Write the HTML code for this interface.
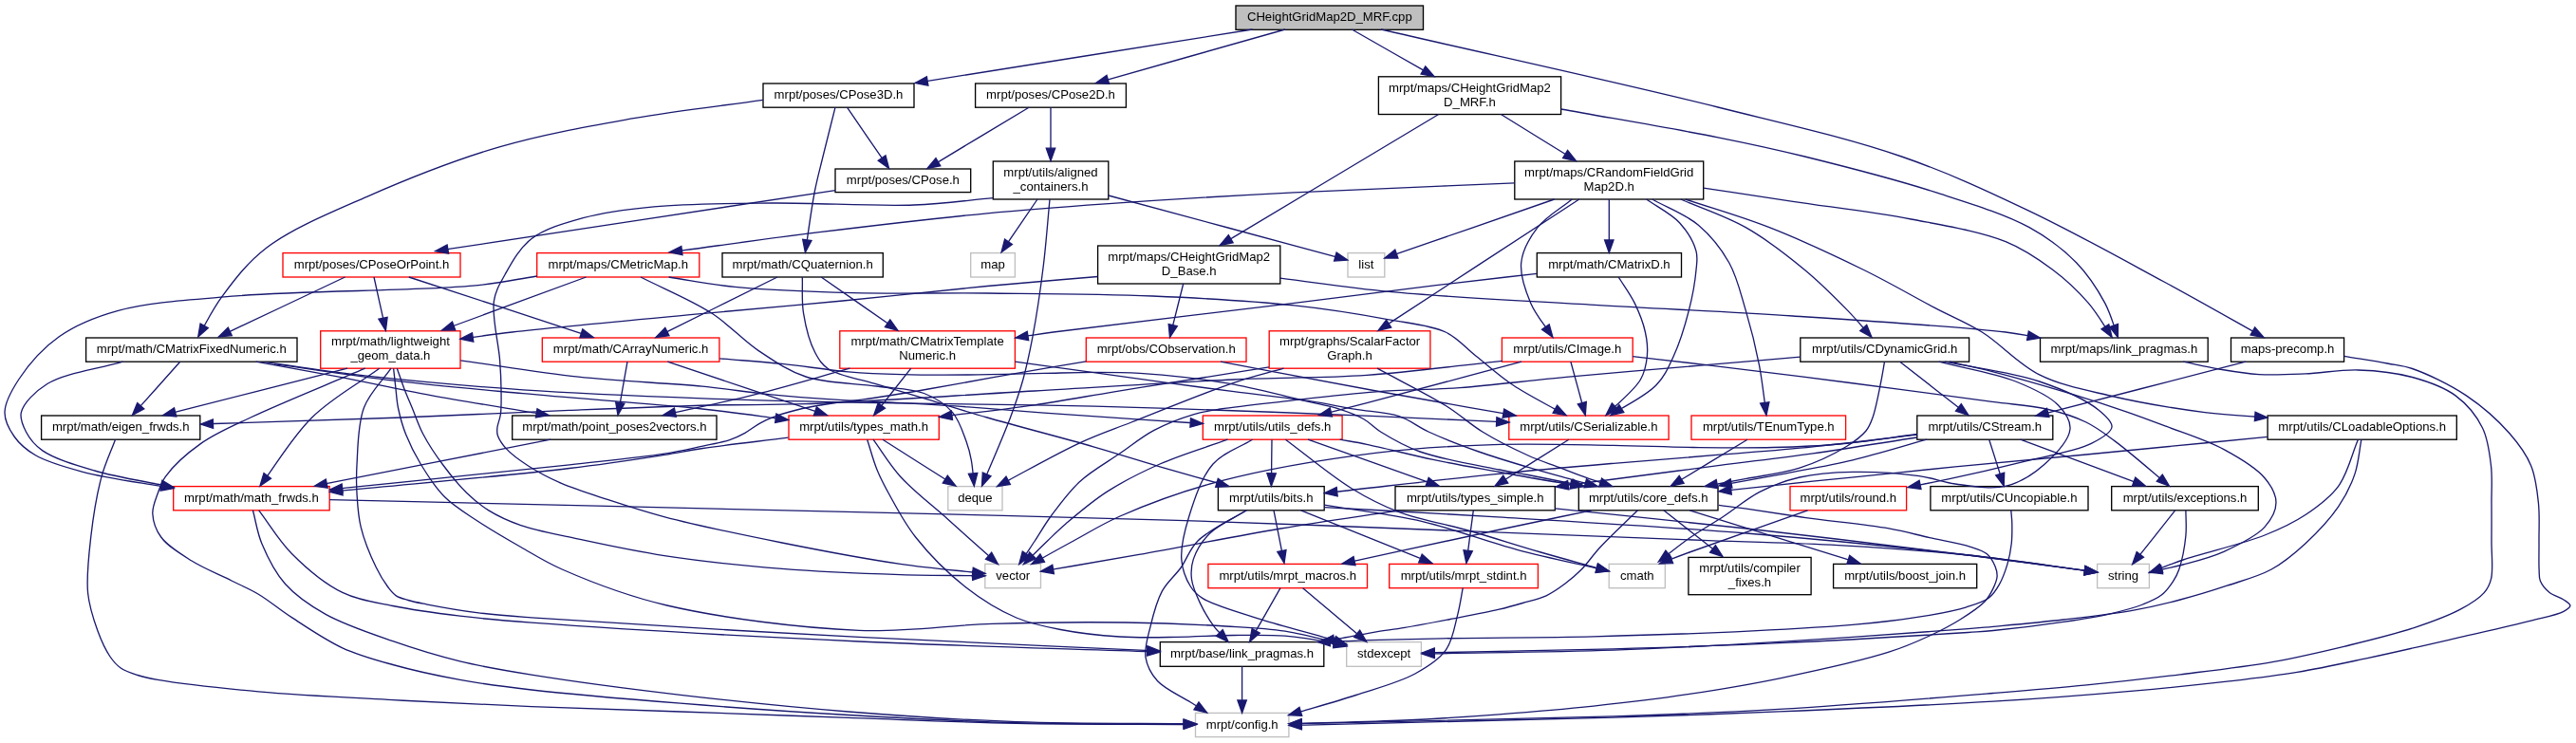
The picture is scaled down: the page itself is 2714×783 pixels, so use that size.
<!DOCTYPE html>
<html><head><meta charset="utf-8"><title>CHeightGridMap2D_MRF.cpp include graph</title>
<style>html,body{margin:0;padding:0;background:#fff}svg{display:block;will-change:transform}text{font-family:"Liberation Sans",sans-serif;font-size:13.15px;text-anchor:middle;fill:#000}.e path{fill:none;stroke:#191970;stroke-width:1.33}.e polygon{fill:#191970;stroke:#191970;stroke-width:1.33}.n rect{stroke-width:1.33}</style></head><body>
<svg width="2714" height="783" viewBox="0 0 2714 783">
<g class="n">
<rect x="1302" y="6" width="197.5" height="25.3" fill="#bfbfbf" stroke="#000"/><text x="1400.8" y="22.1">CHeightGridMap2D_MRF.cpp</text>
<rect x="804" y="88" width="159" height="25.2" fill="#fff" stroke="#000"/><text x="883.5" y="104.1">mrpt/poses/CPose3D.h</text>
<rect x="1027.6" y="88" width="158.8" height="25.2" fill="#fff" stroke="#000"/><text x="1107" y="104.1">mrpt/poses/CPose2D.h</text>
<rect x="1452.4" y="80.8" width="192.2" height="39.7" fill="#fff" stroke="#000"/><text x="1548.5" y="96.5">mrpt/maps/CHeightGridMap2</text><text x="1548.5" y="111.6">D_MRF.h</text>
<rect x="880" y="178" width="142.7" height="24.6" fill="#fff" stroke="#000"/><text x="951.4" y="193.8">mrpt/poses/CPose.h</text>
<rect x="1046.3" y="170" width="121.5" height="40" fill="#fff" stroke="#000"/><text x="1107" y="185.8">mrpt/utils/aligned</text><text x="1107" y="200.9">_containers.h</text>
<rect x="1595.8" y="170" width="198.9" height="40" fill="#fff" stroke="#000"/><text x="1695.2" y="185.8">mrpt/maps/CRandomFieldGrid</text><text x="1695.2" y="200.9">Map2D.h</text>
<rect x="298" y="266.6" width="187" height="25.4" fill="#fff" stroke="#ff0000"/><text x="391.5" y="282.8">mrpt/poses/CPoseOrPoint.h</text>
<rect x="565.7" y="266.6" width="171.1" height="25.4" fill="#fff" stroke="#ff0000"/><text x="651.2" y="282.8">mrpt/maps/CMetricMap.h</text>
<rect x="761" y="266.6" width="169.3" height="25.4" fill="#fff" stroke="#000"/><text x="845.6" y="282.8">mrpt/math/CQuaternion.h</text>
<rect x="1022.7" y="266.6" width="46.7" height="25.4" fill="#fff" stroke="#bfbfbf"/><text x="1046.1" y="282.8">map</text>
<rect x="1156.6" y="259" width="192.2" height="40" fill="#fff" stroke="#000"/><text x="1252.7" y="274.8">mrpt/maps/CHeightGridMap2</text><text x="1252.7" y="289.9">D_Base.h</text>
<rect x="1420" y="266.6" width="38.8" height="25.4" fill="#fff" stroke="#bfbfbf"/><text x="1439.4" y="282.8">list</text>
<rect x="1619.3" y="266.6" width="152.2" height="25.4" fill="#fff" stroke="#000"/><text x="1695.4" y="282.8">mrpt/math/CMatrixD.h</text>
<rect x="90.6" y="356" width="222.4" height="25.2" fill="#fff" stroke="#000"/><text x="201.8" y="372.1">mrpt/math/CMatrixFixedNumeric.h</text>
<rect x="337.7" y="348.8" width="147.3" height="39.4" fill="#fff" stroke="#ff0000"/><text x="411.4" y="364.3">mrpt/math/lightweight</text><text x="411.4" y="379.4">_geom_data.h</text>
<rect x="571.3" y="356" width="186.6" height="25.2" fill="#fff" stroke="#ff0000"/><text x="664.6" y="372.1">mrpt/math/CArrayNumeric.h</text>
<rect x="884.8" y="348.8" width="184.6" height="39.4" fill="#fff" stroke="#ff0000"/><text x="977.1" y="364.3">mrpt/math/CMatrixTemplate</text><text x="977.1" y="379.4">Numeric.h</text>
<rect x="1144.3" y="356" width="168.7" height="25.2" fill="#fff" stroke="#ff0000"/><text x="1228.7" y="372.1">mrpt/obs/CObservation.h</text>
<rect x="1337.2" y="348.8" width="169.7" height="39.4" fill="#fff" stroke="#ff0000"/><text x="1422.1" y="364.3">mrpt/graphs/ScalarFactor</text><text x="1422.1" y="379.4">Graph.h</text>
<rect x="1582.4" y="356" width="137.8" height="25.2" fill="#fff" stroke="#ff0000"/><text x="1651.3" y="372.1">mrpt/utils/CImage.h</text>
<rect x="1896.8" y="356" width="177.8" height="25.2" fill="#fff" stroke="#000"/><text x="1985.7" y="372.1">mrpt/utils/CDynamicGrid.h</text>
<rect x="2149.5" y="356" width="176.7" height="25.2" fill="#fff" stroke="#000"/><text x="2237.8" y="372.1">mrpt/maps/link_pragmas.h</text>
<rect x="2350.5" y="356" width="119.1" height="25.2" fill="#fff" stroke="#000"/><text x="2410.1" y="372.1">maps-precomp.h</text>
<rect x="43.6" y="438" width="167.2" height="25.2" fill="#fff" stroke="#000"/><text x="127.2" y="454.1">mrpt/math/eigen_frwds.h</text>
<rect x="539.7" y="438" width="215.3" height="25.2" fill="#fff" stroke="#000"/><text x="647.4" y="454.1">mrpt/math/point_poses2vectors.h</text>
<rect x="831" y="438" width="158.3" height="25.2" fill="#fff" stroke="#ff0000"/><text x="910.1" y="454.1">mrpt/utils/types_math.h</text>
<rect x="1267.3" y="438" width="146.8" height="25.2" fill="#fff" stroke="#ff0000"/><text x="1340.7" y="454.1">mrpt/utils/utils_defs.h</text>
<rect x="1589.8" y="438" width="168.3" height="25.2" fill="#fff" stroke="#ff0000"/><text x="1673.9" y="454.1">mrpt/utils/CSerializable.h</text>
<rect x="1782" y="438" width="162.6" height="25.2" fill="#fff" stroke="#ff0000"/><text x="1863.3" y="454.1">mrpt/utils/TEnumType.h</text>
<rect x="2019.8" y="438" width="143" height="25.2" fill="#fff" stroke="#000"/><text x="2091.3" y="454.1">mrpt/utils/CStream.h</text>
<rect x="2389.1" y="438" width="199.2" height="25.2" fill="#fff" stroke="#000"/><text x="2488.7" y="454.1">mrpt/utils/CLoadableOptions.h</text>
<rect x="182.7" y="512.6" width="164.5" height="25.2" fill="#fff" stroke="#ff0000"/><text x="264.9" y="528.7">mrpt/math/math_frwds.h</text>
<rect x="998.8" y="512.6" width="57.2" height="25.2" fill="#fff" stroke="#bfbfbf"/><text x="1027.4" y="528.7">deque</text>
<rect x="1283.4" y="512.6" width="111.8" height="25.2" fill="#fff" stroke="#000"/><text x="1339.3" y="528.7">mrpt/utils/bits.h</text>
<rect x="1470" y="512.6" width="168.3" height="25.2" fill="#fff" stroke="#000"/><text x="1554.2" y="528.7">mrpt/utils/types_simple.h</text>
<rect x="1663.3" y="512.6" width="146.7" height="25.2" fill="#fff" stroke="#000"/><text x="1736.7" y="528.7">mrpt/utils/core_defs.h</text>
<rect x="1886" y="512.6" width="122.6" height="25.2" fill="#fff" stroke="#ff0000"/><text x="1947.3" y="528.7">mrpt/utils/round.h</text>
<rect x="2033.9" y="512.6" width="166.1" height="25.2" fill="#fff" stroke="#000"/><text x="2116.9" y="528.7">mrpt/utils/CUncopiable.h</text>
<rect x="2224.7" y="512.6" width="154.6" height="25.2" fill="#fff" stroke="#000"/><text x="2302" y="528.7">mrpt/utils/exceptions.h</text>
<rect x="1037.8" y="594.4" width="58.7" height="25.3" fill="#fff" stroke="#bfbfbf"/><text x="1067.2" y="610.5">vector</text>
<rect x="1272.9" y="594.4" width="167.6" height="25.3" fill="#fff" stroke="#ff0000"/><text x="1356.7" y="610.5">mrpt/utils/mrpt_macros.h</text>
<rect x="1463.7" y="594.4" width="156.7" height="25.3" fill="#fff" stroke="#ff0000"/><text x="1542.1" y="610.5">mrpt/utils/mrpt_stdint.h</text>
<rect x="1695.2" y="594.4" width="59.1" height="25.3" fill="#fff" stroke="#bfbfbf"/><text x="1724.8" y="610.5">cmath</text>
<rect x="1778.9" y="587.4" width="129.2" height="39.3" fill="#fff" stroke="#000"/><text x="1843.5" y="602.8">mrpt/utils/compiler</text><text x="1843.5" y="617.9">_fixes.h</text>
<rect x="1931.6" y="594.4" width="151.1" height="25.3" fill="#fff" stroke="#000"/><text x="2007.1" y="610.5">mrpt/utils/boost_join.h</text>
<rect x="2209.6" y="594.4" width="54.8" height="25.3" fill="#fff" stroke="#bfbfbf"/><text x="2237" y="610.5">string</text>
<rect x="1222.3" y="676.6" width="172.5" height="25.7" fill="#fff" stroke="#000"/><text x="1308.5" y="693">mrpt/base/link_pragmas.h</text>
<rect x="1418.7" y="676.6" width="78.7" height="25.7" fill="#fff" stroke="#bfbfbf"/><text x="1458.1" y="693">stdexcept</text>
<rect x="1259.5" y="751.4" width="98.4" height="25.2" fill="#fff" stroke="#bfbfbf"/><text x="1308.7" y="767.5">mrpt/config.h</text>
</g>
<g class="e">
<path d="M1319.6,31C1319.6,31 1042.1,75.1 977.4,85.4L977.1,85.4"/><polygon points="964,87.5 976.4,80.8 977.9,90.1"/>
<path d="M1354,31C1354,31 1215.5,70.2 1169.3,83.3L1167.3,83.9"/><polygon points="1154.5,87.5 1166,79.4 1168.6,88.4"/>
<path d="M1424.3,31C1424.3,31 1475.3,60.1 1499,73.7L1499.4,73.9"/><polygon points="1511,80.5 1497.1,78 1501.8,69.8"/>
<path d="M1455,31C1573.3,58.3 1709.7,87.9 1810,113C1884.4,131.6 1945.5,145 2003.5,165C2053.1,182.1 2093,200.9 2138,222.3C2185.1,244.7 2236.4,273.4 2280,297C2313.4,315.1 2342.4,331.6 2372.8,348.7L2373.4,349"/><polygon points="2385,355.5 2371.1,353.1 2375.7,344.9"/>
<path d="M804,105.4C758.5,111.8 713.3,116.6 667.6,124.7C620.9,133 573.4,141.1 527,154.6C479.6,168.4 429.5,188.4 386.5,207.3C348.3,224.1 307.8,240.6 281,261C260.4,276.7 246.6,295.4 234,312.4C226.4,322.7 221,332.8 215.5,342.9L215.2,343.4"/><polygon points="208.7,355 211.1,341.1 219.3,345.7"/>
<path d="M880,113.2C875.7,130.5 870.8,149.2 867,165C863.8,178.4 861,187.9 858.3,202C855.5,216.4 853,234.4 850.5,251.8L850.4,252.8"/><polygon points="848.4,266 845.7,252.2 855,253.5"/>
<path d="M892.5,113.2C892.5,113.2 916.2,147.8 928.9,166.2L929.1,166.5"/><polygon points="936.6,177.5 925.2,169.2 933,163.9"/>
<path d="M1084,113.2C1084,113.2 1018.3,152.7 989.9,169.8L988.4,170.6"/><polygon points="977,177.5 986,166.6 990.8,174.7"/>
<path d="M1107,113.2C1107,113.2 1107,139.5 1107,156.1L1107,156.2"/><polygon points="1107,169.5 1102.3,156.2 1111.7,156.2"/>
<path d="M1515.7,120.5C1515.7,120.5 1349.2,220.2 1299.3,250.1L1296.7,251.7"/><polygon points="1285.3,258.5 1294.3,247.6 1299.1,255.7"/>
<path d="M1581.4,120.5C1581.4,120.5 1625.8,148.1 1648.1,161.8L1649.1,162.5"/><polygon points="1660.4,169.5 1646.6,166.5 1651.6,158.5"/>
<path d="M1644.6,115C1699.7,124.9 1763,135.4 1810,144.8C1845.1,151.8 1868.1,156.7 1901.5,165C1942.7,175.2 1996.7,188.9 2038.4,202.4C2074.5,214.1 2111.3,225.1 2138,239.7C2158.4,250.9 2174.2,263 2187.8,277C2200.2,289.8 2210.2,305.4 2217.7,319.4C2221.9,327.3 2224.5,335.1 2227.1,342.9L2227.1,342.9"/><polygon points="2231.4,355.5 2222.6,344.5 2231.5,341.4"/>
<path d="M880,200.6C880,200.6 551.3,250.5 474.6,262.2L471.8,262.6"/><polygon points="458.7,264.6 471.1,258 472.6,267.2"/>
<path d="M1046.3,208.6C1018.5,211.1 994.8,214.8 963,216C920.4,217.6 861.1,213.6 813.5,214C770.1,214.4 725.1,214.4 689,217.8C660.8,220.5 636.9,223.4 614.3,229.7C594.3,235.3 573.6,241 559.5,252C547,261.7 538.7,277.5 532,289.5C526.6,299.1 522.1,306 520.4,317.4C518,333.8 525.4,362.5 526.6,379.6C527.5,391.6 527.9,400.5 528,410.3C528.1,419.4 528.4,429.1 527.4,436.5C526.7,442 524.3,446.6 523.9,450.7C523.6,453.7 523.4,455.8 524.3,458.7C525.7,462.9 529.2,468.2 533.4,472.9C539,479.1 547.8,485.3 556.6,491C566.7,497.5 578.3,503.6 591,509.2C605.7,515.6 622.8,520.8 640,526.4C658.8,532.6 676,538.4 699.6,544.6C733.4,553.5 782.4,563.7 824,572C865.4,580.3 910.4,588.8 948.6,594.4C976,598.4 999.9,600.4 1024.7,603L1024.8,603"/><polygon points="1038,604.4 1024.3,607.7 1025.3,598.3"/>
<path d="M1093,210C1093,210 1074.4,237.3 1063.2,253.7L1062.5,254.8"/><polygon points="1055,265.8 1058.6,252.2 1066.4,257.5"/>
<path d="M1106,210C1103.8,233.3 1102.2,256.3 1099.3,280C1096.3,304.5 1092.1,333 1088,354.7C1084.8,371.6 1082,385 1078,399.5C1074.1,413.4 1070.2,424.7 1064.5,440C1058,457.3 1048.5,479.2 1039.7,499.9L1039.7,499.9"/><polygon points="1034.5,512.2 1035.3,498.1 1044,501.8"/>
<path d="M1167.8,206C1167.8,206 1349.8,255.1 1404.4,269.9L1406.9,270.5"/><polygon points="1419.7,274 1405.6,275.1 1408.1,266"/>
<path d="M1595.8,192.9C1518.4,196.2 1438.1,199 1363.7,202.8C1294.7,206.3 1223.1,210.7 1164.5,214.8C1118.1,218.1 1085.1,220.5 1040,224.8C986.2,230 920.5,237.7 863.3,244.7C814.5,250.7 768.2,257.3 721,263.7L718.4,264"/><polygon points="705.2,265.8 717.8,259.4 719,268.7"/>
<path d="M1637.6,210C1637.6,210 1513.4,253.1 1472,267.4L1471.4,267.6"/><polygon points="1458.8,272 1469.8,263.2 1472.9,272.1"/>
<path d="M1663.8,210C1663.8,210 1510.8,309.9 1464.9,339.9L1463.1,341"/><polygon points="1452,348.3 1460.6,337.1 1465.7,345"/>
<path d="M1656.3,210C1644.2,219.9 1629,228.1 1620,239.7C1611.5,250.6 1604,263.9 1602.7,277C1601.3,290.5 1607.1,306.3 1612.7,319.4C1616.5,328.3 1622.4,336.3 1628.2,344.3L1628.4,344.6"/><polygon points="1636,355.5 1624.5,347.3 1632.2,341.9"/>
<path d="M1695.3,210C1695.3,210 1695.3,236.3 1695.3,252.9L1695.3,253"/><polygon points="1695.3,266.3 1690.6,253 1700,253"/>
<path d="M1734.6,210C1746.2,218.2 1760.6,225 1769.5,234.7C1777.5,243.5 1784.5,255.3 1787,264.6C1788.9,271.6 1787.7,276.7 1787,284.5C1786,296 1783.1,312.5 1779.4,326.9C1775.4,342.6 1769.8,361 1763.4,375C1758,386.7 1754,396.4 1745,405.8C1736.3,415 1722.1,422.5 1708.8,430.3L1708.3,430.6"/><polygon points="1697,437.6 1705.9,426.6 1710.8,434.6"/>
<path d="M1740.8,210C1757,219.1 1775.7,225.7 1789.4,237.2C1802.5,248.2 1813.5,262.2 1821.8,277C1830.2,292 1834,309.5 1839.2,326.9C1844.7,345.4 1849.8,365.9 1853.5,384.8C1856,397.9 1857.5,410.7 1859.2,423.6L1859.3,424.4"/><polygon points="1861,437.6 1854.6,425 1863.9,423.8"/>
<path d="M1770.7,210C1793.5,219.9 1817.5,227.4 1839.2,239.7C1861.2,252.2 1882.9,269.1 1901.5,284.5C1918.2,298.3 1933.6,313.9 1946.3,326.9C1952.6,333.4 1957.8,339.3 1962.9,345.2L1963.2,345.5"/><polygon points="1972,355.5 1959.7,348.6 1966.7,342.4"/>
<path d="M1775.7,210C1805.2,219.9 1834.1,227.9 1864.1,239.7C1896.6,252.4 1933.1,269.5 1963.7,284.5C1990.6,297.7 2016,312.6 2038.4,324.4C2056.6,334 2071.2,339.5 2088.2,350C2107.9,362.2 2126.3,383.7 2148.6,394.8C2171.2,406.1 2196.2,410.7 2223,417C2253.7,424.3 2293,430.7 2323,434.6C2342,437 2358.2,437.9 2374.9,439L2375.7,439"/><polygon points="2389,440 2375.4,443.7 2376.1,434.3"/>
<path d="M1794.7,198.1C1826.1,202.8 1855.4,207.2 1889,212.3C1927.6,218.1 1974.5,223.5 2013.5,231C2048.7,237.8 2086.2,243.7 2113.1,254.6C2133.3,262.8 2148.1,273.3 2163,284.5C2177,295 2189.7,307.1 2200.3,319.4C2207,327.2 2212.3,335.6 2217.6,343.9L2217.9,344.4"/><polygon points="2225.2,355.5 2214,346.9 2221.8,341.8"/>
<path d="M363.5,292C363.5,292 278.3,332.3 244.2,348.4L242.3,349.3"/><polygon points="230.3,355 240.3,345.1 244.3,353.6"/>
<path d="M394,292C394,292 399.8,318.3 403.5,334.9L403.5,335.3"/><polygon points="406.4,348.3 398.9,336.3 408.1,334.3"/>
<path d="M430.8,292C430.8,292 565.7,336.1 610.6,350.8L612.4,351.4"/><polygon points="625,355.5 610.9,355.8 613.8,346.9"/>
<path d="M565.7,291C543.1,294.4 527.8,298.3 498,301.2C441.2,306.7 317.7,306.2 249,311.9C200.3,316 158.3,318 124.5,327.3C99.6,334.2 80,342.2 62.3,354.7C45.4,366.6 29.8,384.6 20,399.5C12.3,411.2 5.2,423.6 5,434.4C4.8,443.6 9.8,452.5 15,460C20.4,467.8 27.8,474.1 37.4,479.8C50.2,487.3 67.7,492.1 87.2,497.3C109.7,503.3 140.1,507.5 168.3,512.2L169.9,512.4"/><polygon points="183,514.7 169.1,517.1 170.7,507.8"/>
<path d="M617.5,292C617.5,292 516.2,329.3 479,343L478.1,343.4"/><polygon points="465.6,348 476.5,339 479.7,347.8"/>
<path d="M675,292C699.8,304.6 727.7,315.8 749.4,329.8C768.4,342 782.1,358.2 799.2,369.6C815.4,380.4 830.1,390.8 849,397C870.8,404.2 901.3,403.8 923.7,407C942,409.6 959.5,409.1 973.5,414.5C985.3,419.1 995.9,425.8 1003.4,434.4C1010.6,442.7 1014.6,455.8 1018,465C1020.6,472.2 1022,477.6 1023.3,484.8C1024.1,489.1 1024.6,493.8 1025.1,498.7L1025.1,499"/><polygon points="1026.3,512.2 1020.4,499.4 1029.8,498.5"/>
<path d="M704.6,292C727.8,295.5 747.6,299.8 774.3,302.4C809.7,305.9 856,307.5 898.8,308.6C944.4,309.8 990.5,308.5 1040,309C1095,309.6 1158.5,309.7 1214.3,312C1266,314.2 1319,317.1 1363.7,321.9C1400.3,325.8 1434.4,331.5 1463.3,336.8C1485.8,341 1506.9,342.4 1523,350C1536.1,356.2 1543.6,366.2 1554.8,375C1567.2,384.7 1579.4,396 1594,405.8C1607,414.5 1622.6,422.6 1637.6,430.8L1638.4,431.2"/><polygon points="1650,437.6 1636.1,435.3 1640.6,427.1"/>
<path d="M819,292C819,292 737.1,332.6 704.3,348.9L702.9,349.6"/><polygon points="691,355.5 700.8,345.4 705,353.8"/>
<path d="M845.3,292C845.7,304.6 844.4,317 846.5,329.8C848.7,343.6 853.4,361.5 859,372C863,379.4 865.9,384.2 873,389C883.8,396.3 905.1,399.2 922,404.4C940,409.9 958.9,415.4 978,421.2C998.1,427.3 1016.2,433.1 1040,440C1071.8,449.2 1119.1,461.3 1152,470.8C1178.1,478.3 1198.4,484.9 1222,491.8C1241.6,497.5 1261.6,503.1 1281.4,508.7L1282,508.9"/><polygon points="1294.8,512.5 1280.7,513.4 1283.3,504.4"/>
<path d="M865.2,292C865.2,292 912.7,325.1 934.9,340.5L935.1,340.7"/><polygon points="946,348.3 932.4,344.6 937.8,336.8"/>
<path d="M1156.6,291.5C1117.7,294.8 1081.4,297.6 1040,301.5C992.7,305.9 938.4,312.1 888,317C838,321.8 792.1,325.6 738.8,330.6C677.2,336.4 585.2,344.8 539.6,350C522.1,352 510.7,353.7 498.7,355.3L498.2,355.4"/><polygon points="485,357.2 497.5,350.7 498.8,360.1"/>
<path d="M1246.7,299C1246.7,299 1240.1,325.4 1235.9,342.1L1235.7,342.6"/><polygon points="1232.5,355.5 1231.2,341.5 1240.3,343.7"/>
<path d="M1348.8,293.2C1387,297.9 1419,303.2 1463.3,307.4C1524,313.1 1608.4,317.1 1680,321.4C1750.3,325.6 1818.2,328.3 1889,333C1962.4,337.8 2070.1,344.7 2113,350C2123.4,351.3 2130.1,352.5 2136.4,353.7L2136.4,353.7"/><polygon points="2149.5,356.2 2135.6,358.4 2137.3,349.1"/>
<path d="M1619.3,288.3C1583.9,292.4 1551.4,296.1 1513,300.7C1467.4,306.2 1420,312.5 1363.7,319.4C1290.2,328.4 1157.7,343.5 1109.7,350C1097.6,351.6 1090.2,352.8 1083,353.9L1082.9,354"/><polygon points="1069.8,356 1082.2,349.3 1083.7,358.6"/>
<path d="M1705.2,292C1710.9,301.1 1717.5,309.8 1722.2,319.4C1726.9,329.1 1731.3,340.2 1733.4,350C1735.3,358.6 1736.2,366.7 1735.4,375C1734.6,383.4 1733.3,391.5 1728.4,400C1723.2,409.1 1712.1,418.6 1701.8,428.1L1701.6,428.4"/><polygon points="1692,437.6 1698.3,425 1704.8,431.8"/>
<path d="M129.5,381.2C102.9,389 68.4,392.9 49.8,404.5C36.8,412.6 24.9,424.7 22.4,434.4C20.6,441.4 24.1,448.6 27.4,455C31.1,462.2 36.4,469 44.8,474.9C57.3,483.6 79.2,490 99.6,496C120.1,502.1 145.1,506.1 168.9,510.7L170,510.9"/><polygon points="183,513.5 169,515.5 170.9,506.3"/>
<path d="M189.7,381.2C189.7,381.2 163.9,410.2 149.2,426.6L148.3,427.7"/><polygon points="139.4,437.6 144.7,424.5 151.8,430.8"/>
<path d="M269.7,381.2C298.8,386.5 327.2,391.5 357,397.2C388.5,403.2 419.6,410.3 454,416.6C488.3,422.9 526.7,429 563.7,435.2L565.2,435.4"/><polygon points="578.3,437.6 564.4,440 566,430.8"/>
<path d="M279.4,381.7C318.2,386.9 354.2,392.6 395.9,397.2C443.9,402.5 496.7,407.1 551,410.8C610.9,414.8 678.8,417.5 740,419.8C797.6,421.9 850.9,423.1 908,424.3C967.4,425.5 1033.3,425.7 1090,426.8C1139.7,427.8 1178.1,428.7 1230,430.3C1295.1,432.4 1384.9,436 1450,438.7C1496.7,440.6 1534.9,442.5 1576.1,444.4L1576.7,444.4"/><polygon points="1590,445 1576.5,449.1 1576.9,439.7"/>
<path d="M289,383.6C331.1,389.4 372.4,396 415.3,401.1C459.7,406.4 502,410.1 551,414.7C608.8,420.1 688.5,425.5 740,431C770.3,434.2 792.7,437.5 817.2,440.8L817.3,440.8"/><polygon points="830.5,442.5 816.7,445.4 817.9,436.1"/>
<path d="M366,388.2C366,388.2 231.1,422.5 186.2,433.9L184.7,434.3"/><polygon points="171.8,437.6 183.5,429.8 185.8,438.9"/>
<path d="M384.7,388.2C344.5,405.5 295.7,424.9 264,440C242.7,450.1 227,456.5 211.7,467.4C197.4,477.5 181.8,491.9 174.3,502.3C169.7,508.7 168.4,513.7 166.2,520C163.9,526.6 160.5,533.9 160.8,541.2C161.2,549.2 164.2,558.4 169.7,566C176.5,575.4 189.7,583.4 201.5,590.8C214.3,598.9 231.3,605.6 244,612C254.4,617.2 262.6,620.4 272.3,626.2C283.7,633 294.5,642.4 307.7,650.9C323.5,661.1 342.6,674.4 360.8,682.8C378.1,690.8 394.8,695.2 413.9,700.5C435.6,706.6 460.6,712 484.6,716.4C509.2,720.9 530.3,723.6 560,727C602.8,731.9 663,736.9 716.9,741.2C774.1,745.8 834.9,750.1 893.9,753.5C952.9,756.9 1010.8,760.1 1070.8,761.7C1127.7,763.2 1186.6,762.8 1244.7,763.1L1247.2,763.1"/><polygon points="1260.5,763.2 1247.2,767.8 1247.2,758.4"/>
<path d="M399.7,388.2C376,405.5 349.5,419.5 328.7,440C310.7,457.7 296.9,480.1 282,501.2L281.7,501.5"/><polygon points="273.9,512.2 278,498.7 285.5,504.2"/>
<path d="M412,388.2C402.5,401.9 389.6,413.5 383.5,429.4C376.8,446.9 377,473.1 376,489.8C375.3,501.6 375.4,509.6 376,520C376.7,531.4 377.2,543.3 380.2,555.4C383.5,569.1 390.6,586.3 396.2,597.8C400.3,606.3 404.9,613.6 409,619C411.9,622.8 414,625.7 417.4,627.9C421,630.2 425.3,631.1 430,632.5C435.7,634.2 441.2,635.2 449.2,636.8C462.5,639.4 484.2,643.3 502.3,645.6C521.1,648 532.7,648.8 560,650.9C626.7,655.9 792.4,665.5 905,671.4C1007.5,676.8 1106,680.7 1206.2,685.3L1208.7,685.4"/><polygon points="1222,686 1208.5,690.1 1208.9,680.7"/>
<path d="M414.6,388.2C415.4,395.5 416.2,402.9 417,410C417.8,416.8 418,422.9 419.5,430C421.3,438.5 423.8,448.2 427.5,457.5C431.6,467.9 437,478.9 443.5,489.5C450.5,501 458.7,513.9 468.6,523.8C478.5,533.7 490.5,540.7 503,549C517,558.3 533.6,567.9 548.7,576.5C563.3,584.8 574,592 592.2,600C620.2,612.3 659.7,627.9 702.7,638C759.5,651.3 843.6,661.9 905,664.3C956,666.3 998.7,658.7 1045.5,657.3C1092.3,655.9 1142.5,655.4 1186,656C1223.7,656.5 1260.9,658.1 1291.5,660C1315.1,661.4 1333.1,662 1354,665.2C1371.2,667.9 1388.5,672.6 1405.8,676.9L1405.8,676.9"/><polygon points="1418.7,680 1404.7,681.5 1406.9,672.3"/>
<path d="M418.3,388.2C420.9,395.5 423.3,402.9 426,410C428.6,416.8 431.3,422.8 434.3,430C437.8,438.4 440.9,448.2 445.8,457.5C451.3,468 458.8,479.3 466.4,489.5C474,499.8 482.9,510.8 491.5,519.2C499,526.5 505.6,532.1 514.4,537.6C524.4,543.8 535.5,549 548.7,553.6C565.1,559.3 584.5,562.6 606,567.3C633.4,573.2 666.4,580.5 700,585.6C738.4,591.5 782.6,596.1 824,599.4C865.4,602.7 910.5,604.4 948.6,605.6C975.5,606.4 998.9,606.4 1023.3,606.6L1024.7,606.7"/><polygon points="1038,606.8 1024.7,611.4 1024.8,602"/>
<path d="M485.2,379.8C526.6,385.6 567.4,392.7 609.4,397.2C652.3,401.8 703.2,403.6 740,407.2C767,409.8 786.6,413.3 810,415.6C833.3,417.9 856.7,419.7 880,421.2C903.3,422.7 926.7,423.4 950,424.7C973.3,426 995.9,427.2 1020,428.9C1045.8,430.7 1068.5,432.9 1100,435.2C1141.8,438.2 1200.8,442 1253.3,445.5L1254.2,445.5"/><polygon points="1267.5,446.4 1253.9,450.2 1254.5,440.8"/>
<path d="M661,381.2C661,381.2 656.3,407.5 653.4,424.2L653.3,424.5"/><polygon points="651,437.6 648.7,423.7 657.9,425.3"/>
<path d="M703.3,381.2C703.3,381.2 815.5,418.8 856.6,432.6L858.9,433.4"/><polygon points="871.5,437.6 857.4,437.8 860.4,428.9"/>
<path d="M758.2,377.8C780.1,379.7 801.7,381.1 824,383.4C847,385.8 871.9,389.9 894,391.8C913.7,393.5 930.3,394.1 950,394.6C972,395.2 995.9,395.2 1020,395C1045.8,394.8 1075.9,393.9 1100,393.4C1119.8,393 1136.6,392.4 1154,392.4C1170.2,392.4 1185.3,392.5 1201,393.4C1216.8,394.3 1232.4,395.7 1248.5,397.6C1265.3,399.6 1281,401.6 1300,405.2C1323.8,409.7 1360.2,419 1380,423.6C1391.7,426.3 1398.7,427.3 1408,430.2C1417.6,433.2 1428.3,436.9 1436.5,441.5C1443.5,445.4 1447,450.3 1454.5,455C1465.3,461.7 1479.3,470 1496,476C1518.7,484.2 1559,490.7 1580,495C1592.5,497.6 1598.3,498.3 1610,500.5C1622.9,503 1639.8,506.4 1656,509.7L1656.2,509.7"/><polygon points="1669.2,512.3 1655.2,514.3 1657.1,505.1"/>
<path d="M895.4,388.2C862.3,397.3 829.1,407.3 796,415.6C767.8,422.7 739.6,428.5 711.4,434.7L711.4,434.7"/><polygon points="698.4,437.6 710.4,430.1 712.4,439.3"/>
<path d="M959.8,388.2C959.8,388.2 940.6,412.5 929.1,427.1L928.8,427.4"/><polygon points="920.6,437.8 925.2,424.5 932.5,430.3"/>
<path d="M1069.4,381.1C1097.7,385 1126.8,389.1 1154.3,392.9C1180.2,396.5 1205,399.9 1229.7,403.3C1253.5,406.5 1275.8,409.6 1300,412.7C1325.8,416 1356.9,419.2 1380,422.7C1397.8,425.4 1411.3,428.5 1427,431.2C1442.7,433.9 1460.3,434.1 1474,438.7C1485.8,442.6 1493.1,449.5 1505,455C1520.2,462 1540.3,469.7 1558,476C1575.3,482.1 1593.2,487.4 1610,492.4C1625.7,497.1 1642.5,501.6 1655.8,505.3C1660.9,506.7 1665.5,507.9 1669.9,509.1L1670.3,509.2"/><polygon points="1683.2,512.6 1669.1,513.7 1671.5,504.7"/>
<path d="M1144.3,380.8C1112.2,386.3 1077.5,392.2 1048,397.4C1022.8,401.8 1001.4,406 978,410C954.7,414 926.1,418.7 908,421.2C896.6,422.8 889.8,423.1 880,424.5C869.1,426.1 856.3,428 845.4,430.5C835.4,432.8 825.1,435.7 817.1,438.6C810.9,440.9 806.3,442.9 801,445.8C795.5,448.8 790.3,453.3 784.8,456.3C779.5,459.2 774.9,461.5 768.7,463.6C760.7,466.3 750.7,467.9 740.4,470.1C728.1,472.7 716.5,475.6 700,478.2C674.2,482.3 640.9,485.3 600,489.8C539.3,496.5 445.2,505.9 364.5,514.2L360.6,514.6"/><polygon points="347.4,516 360.1,510 361.1,519.3"/>
<path d="M1286,381.2C1340.7,391.5 1396.8,402.3 1450,412C1495.3,420.3 1538.4,427.7 1582.3,435.4L1583.9,435.7"/><polygon points="1597,438 1583.1,440.3 1584.7,431.1"/>
<path d="M1337,386.9C1310.7,391.1 1284.7,395.3 1258,399.5C1230.4,403.9 1202,408.3 1174,412.8C1146,417.4 1119.3,422.5 1090,426.8C1062.3,430.8 1032.4,434.2 1003.1,437.7L1002.9,437.8"/><polygon points="989.7,439.4 1002.3,433.1 1003.5,442.4"/>
<path d="M1352.5,388.2C1335,393.2 1320.4,396.4 1300,403.3C1270.2,413.3 1221.8,433.3 1192,445C1170.9,453.3 1157.9,457.4 1138,466.6C1115.5,477 1088.2,492.4 1062.3,506.3L1062.2,506.4"/><polygon points="1050.5,512.6 1060,502.2 1064.4,510.5"/>
<path d="M1451,388.2C1475.3,401.5 1503.9,415.4 1524,428C1539,437.4 1548.1,446.6 1561.8,455C1576.6,464.1 1595.4,473.4 1610,480C1621.7,485.3 1631.8,488.4 1642.3,492.4C1652.4,496.3 1662.3,500.3 1672,503.7C1676.7,505.4 1681.3,506.9 1685.9,508.4L1686.2,508.5"/><polygon points="1698.8,512.6 1684.7,512.9 1687.6,504"/>
<path d="M1582.8,380.3C1535.2,385.3 1487.4,392 1440,395.3C1393.2,398.5 1351.4,397.7 1300,400C1237.1,402.9 1162.4,407.9 1090,412C1012.4,416.4 911.9,423.5 849,425.7C808.6,427.1 785.9,426.1 749.4,427C704.6,428.1 651.9,430.3 600,432.4C543.6,434.6 484.9,437.7 423.3,440C360.3,442.4 291.7,444.4 225.4,446.5L224.5,446.6"/><polygon points="211.2,447 224.3,441.9 224.6,451.3"/>
<path d="M1603,381.2C1548.7,395.7 1478.9,414.5 1440,424.7C1424.5,428.7 1413.9,431.4 1403,434.2L1402.4,434.3"/><polygon points="1389.5,437.6 1401.2,429.8 1403.5,438.9"/>
<path d="M1654.9,381.2C1654.9,381.2 1662.1,407.5 1666.6,424.2L1666.8,424.8"/><polygon points="1670.3,437.6 1662.3,426 1671.3,423.5"/>
<path d="M1720.2,375.7C1746.8,378.7 1769.3,381.1 1800,384.8C1842.1,389.8 1899.6,397.1 1949.4,403.5C1999.2,409.9 2060.7,418.3 2098.8,423.4C2122.4,426.5 2138.6,427 2156,431C2171.3,434.5 2185.5,438.9 2198,445C2209.3,450.5 2216.8,456.5 2228.2,464.9C2241.6,474.8 2258.6,489.5 2274.8,503.2L2275.3,503.7"/><polygon points="2285.5,512.2 2272.3,507.3 2278.3,500.1"/>
<path d="M1896.8,376.1C1864.5,378.9 1835.8,381.3 1800,384.4C1755.5,388.2 1696.3,393.1 1650,397.4C1609.9,401.1 1573.1,406 1538,408.6C1506.9,410.9 1479.8,410.5 1450,412.8C1419.2,415.1 1385,419.3 1356,422.6C1330.9,425.4 1304,428.1 1286,431C1274.5,432.8 1268.1,433.6 1258,436.6C1245.3,440.4 1229.1,446.4 1216,453.4C1203.1,460.2 1192.4,469.2 1180,477.8C1166.5,487.1 1150.3,495.9 1138,507.2C1126.1,518.1 1115.7,532.6 1107.2,544C1100.4,553.2 1095.9,561.5 1090.3,570C1087.3,574.6 1084.2,579.1 1081.2,583.6L1081.2,583.6"/><polygon points="1073.7,594.6 1077.3,581 1085.1,586.2"/>
<path d="M1985.5,381.2C1984.3,388.1 1983.4,394.1 1981.8,402C1979.6,412.8 1976.4,430.6 1973,440C1970.9,446 1969.6,449.5 1966,454C1961.2,459.9 1953.9,465.3 1945,470.8C1932.4,478.5 1913.2,487.6 1896,493.2C1878.3,498.9 1857.6,501 1840,504.4C1829.4,506.4 1819.6,508.2 1809.8,510L1809.1,510.1"/><polygon points="1796,512.5 1808.2,505.5 1809.9,514.7"/>
<path d="M2001.7,381.2C2001.7,381.2 2042.3,412.9 2062.6,428.8L2063.4,429.4"/><polygon points="2073.9,437.6 2060.5,433.1 2066.3,425.7"/>
<path d="M2042.8,381.2C2069.8,388.1 2101.2,393 2123.7,402C2141.4,409.1 2158.9,417 2168.5,427C2175.6,434.4 2181.7,443.1 2181,452C2180,463.6 2164.8,479.7 2153.5,489.8C2142.3,499.7 2128.5,508.6 2113.7,512.2C2097.6,516.1 2076.3,512.1 2060,510C2046.2,508.2 2036.7,503.6 2022,501.6C2002.3,498.8 1974,497 1952,497.4C1932.3,497.8 1913.1,499.1 1896,503C1880.8,506.5 1867.2,511.6 1854,518.4C1840.6,525.3 1828.7,535.8 1816.2,544C1804.1,552 1791.6,558.9 1780,567C1772.4,572.3 1765.3,577.9 1758.1,583.6L1757.8,583.8"/><polygon points="1747.3,592 1754.9,580.1 1760.7,587.5"/>
<path d="M2049,381.2C2082.2,388.1 2119.8,392.2 2148.6,402C2172.4,410.1 2198.1,421.7 2210.9,432C2218.2,437.9 2225.7,444.4 2225,450C2224.3,456.2 2213.4,462.3 2203.3,467.4C2186.4,475.9 2153.5,481.1 2128.6,487.3C2103.7,493.5 2075.5,500 2053.9,504.7C2042.6,507.1 2033.1,509 2023.5,510.8L2023.1,510.9"/><polygon points="2010,513.5 2022.1,506.3 2024,515.5"/>
<path d="M2054,381.2C2069.3,384.7 2082.4,387.3 2100,391.8C2123.9,397.9 2158.9,408 2184,415.6C2204.6,421.9 2222.7,427.8 2240,433.8C2255.1,439 2266.7,443.4 2282,449.2C2300.5,456.3 2324.9,463.8 2343,473.6C2359.1,482.3 2376.8,492.7 2386,503.7C2392.8,511.8 2398,521 2398,529.6C2398,538.2 2392.9,547.7 2386,555.4C2376.8,565.6 2357.7,574.6 2343,581.3C2329,587.6 2313.7,591.3 2300,595C2292.4,597.1 2285.2,598.6 2278,600.1L2277.6,600.2"/><polygon points="2264.6,603 2276.6,595.6 2278.6,604.8"/>
<path d="M2300.2,381.2C2312.8,383.8 2325,386.8 2338,389C2351.6,391.3 2365.4,393.7 2380,394.6C2395.7,395.5 2412.2,394.6 2429,393.9C2447,393.1 2466,389.4 2484.6,390C2503.5,390.6 2523.9,392.7 2541.5,397.5C2557.8,402 2574.5,407.6 2587,416.9C2598.9,425.7 2609.3,438.4 2615.5,451C2621.5,463.1 2622.9,477.6 2624.5,490.9C2626,503.9 2624.9,516.9 2625,530C2625.1,543.3 2625.1,556.7 2625,570C2624.9,583.3 2627,600.1 2624.6,609.9C2623.1,616.2 2621.2,620 2617.2,624.6C2611.8,630.9 2602.6,636.5 2592.6,641.9C2579.3,649.1 2561.6,655.5 2543.3,661.6C2521.4,668.9 2494.2,675.3 2469.5,681.3C2444.9,687.2 2422.1,692.6 2395.6,697.3C2365.2,702.7 2329.9,706.7 2297,710.8C2264.2,714.9 2231.4,718.6 2198.5,721.9C2165.7,725.2 2139.6,727.3 2100,730.5C2040.2,735.4 1944.7,743.3 1874.3,747.4C1812.5,751 1767.8,752.7 1700,754.9C1609.8,757.9 1485.2,760 1375.2,762.4L1371.3,762.5"/><polygon points="1358,762.8 1371.2,757.8 1371.4,767.2"/>
<path d="M2366,381.2C2366,381.2 2206.2,422.5 2158.2,434.8L2157.7,435"/><polygon points="2144.8,438.3 2156.5,430.4 2158.9,439.5"/>
<path d="M2469.6,375.3C2484.9,377.9 2502.3,380.5 2515.4,383C2525.3,384.9 2531.4,385 2541.5,388.5C2557.1,393.9 2581.2,405.3 2598.4,416.9C2615.2,428.2 2632.1,443.2 2644,456.8C2653.8,468 2661.6,478.5 2666.7,490.9C2671.8,503.2 2673.1,517.5 2674.5,530.8C2675.8,543.9 2674.9,557.8 2675,570C2675.1,580.7 2674.7,592.2 2675.1,600C2675.4,605 2674.8,608.4 2676.4,612.3C2678.2,616.7 2682.2,621.3 2686.2,624.6C2690.3,627.9 2697.1,629.4 2701,632C2703.9,634 2707.9,636.1 2707.9,638.2C2707.9,640.2 2704.5,642.4 2701,644.3C2694.1,648.1 2680.2,650.6 2666.5,654.2C2646.6,659.4 2619,665.4 2592.6,671.4C2562.1,678.4 2524.6,687.1 2494.1,693.6C2467.7,699.2 2444.9,704.3 2420.2,708.4C2395.6,712.5 2372.7,715.1 2346.3,718.2C2315.8,721.7 2284,724.9 2247.8,728.1C2203.5,732 2154.5,735.9 2100,739.2C2032.7,743.3 1944.7,747 1874.3,749.9C1812.5,752.5 1767.8,754.1 1700,756.1C1609.8,758.8 1485.2,761.4 1375.2,764.1L1371.3,764.2"/><polygon points="1358,764.5 1371.2,759.5 1371.4,768.9"/>
<path d="M121.5,463.2C116.7,476.2 111,487.6 107,502.3C102.1,520.4 98.3,543.8 95.9,564.5C93.6,584.7 90.8,607 92.6,625C94.1,639.8 98.7,653.2 103,665C106.7,675.1 111.3,685.1 116,692C119.5,697.1 122.6,700.8 127.2,704C132.2,707.5 138.7,709.5 145,711.5C151.7,713.7 156.4,714.7 166.2,716.4C188,720.2 234.3,725.4 272.3,728.8C316.1,732.7 366.3,735 413.9,737.6C462.2,740.3 510.4,742.7 560,744.7C611.4,746.8 663,748.1 716.9,750C774.1,752 834.9,754.3 893.9,756.4C952.9,758.5 1010.8,761.2 1070.8,762.4C1127.7,763.5 1186.6,763.3 1244.7,763.5L1247.2,763.5"/><polygon points="1260.5,763.6 1247.2,768.2 1247.2,758.8"/>
<path d="M580.2,463.2C580.2,463.2 400.3,498.6 346.3,509.2L344.2,509.6"/><polygon points="331.2,512.2 343.3,505 345.2,514.2"/>
<path d="M830.5,461.2C800.5,465 764.5,468.9 740.4,472.5C724.2,474.9 716.5,476.8 700,479.4C674.1,483.4 641,488.6 600,493.5C539.4,500.8 445.2,508.9 364.5,516.7L360.6,517.1"/><polygon points="347.4,518.4 360.2,512.4 361.1,521.8"/>
<path d="M930,463.2C930,463.2 973.3,490.8 995,504.5L995.8,505.1"/><polygon points="1007,512.2 993.3,509 998.3,501.1"/>
<path d="M920,463.2C929.5,476.2 937,489.4 948.6,502.3C962.3,517.4 981.5,531.9 998.4,547C1012.3,559.5 1026.6,572.3 1040.9,585.1L1041.6,585.7"/><polygon points="1051.5,594.6 1038.5,589.2 1044.7,582.2"/>
<path d="M913.7,463.2C917.1,473.8 920,485.2 924,495C927.6,504 931.1,510.5 936.3,520C943.6,533.2 952.6,550.8 964.6,566C978.7,583.9 999.1,604.4 1017.7,619C1034.6,632.2 1053.1,643.5 1070.8,651C1086.4,657.6 1100.6,660.3 1117.4,663.5C1136.5,667.2 1159,669.7 1179.6,671C1199.8,672.3 1219.9,671.7 1240,671.4C1260,671.1 1280.5,669.7 1300,669.5C1318.5,669.3 1336.4,668.8 1354,670.2C1371,671.6 1392,675.5 1403.7,677.7C1404.3,677.8 1405,677.9 1405.6,678.1L1405.7,678.1"/><polygon points="1418.7,681 1404.7,682.7 1406.8,673.5"/>
<path d="M1293.4,463.2C1269.6,471.8 1244,479.3 1222,489C1201.9,497.9 1183,507.4 1166,518.4C1150.2,528.6 1134.3,542.3 1122.9,552C1115,558.7 1110.4,563.5 1103.6,570C1098.8,574.6 1093.5,579.8 1088.3,585L1088,585.3"/><polygon points="1078.5,594.6 1084.7,581.9 1091.3,588.6"/>
<path d="M1319.5,463.2C1305.7,471.8 1288.9,476.7 1278,489C1265.9,502.7 1258.3,526.2 1252.8,544C1248,559.5 1243.8,576.1 1244.8,589.4C1245.6,600.1 1249.8,610.8 1254.3,618C1257.7,623.5 1260.4,626.4 1266.8,630.4C1279.2,638.2 1307.6,645.9 1329,652.8C1351.5,660 1382.5,667.8 1398.7,672.7C1401.5,673.5 1403.8,674.3 1405.9,674.9L1406,675"/><polygon points="1418.7,679 1404.6,679.4 1407.5,670.5"/>
<path d="M1340,463.2C1340,463.2 1339.7,483.9 1339.6,498.4L1339.6,498.9"/><polygon points="1339.4,512.2 1334.9,498.8 1344.3,499"/>
<path d="M1354.4,463.2C1377.6,480.4 1402.2,501.3 1424,514.7C1441.5,525.4 1455.3,532.5 1474,539.6C1496,547.9 1523.8,552.5 1548.6,559.5C1573.5,566.6 1598.6,574.9 1623.3,582C1643,587.7 1662.5,592.9 1682,598.3L1682.4,598.4"/><polygon points="1695.2,601.9 1681.1,602.9 1683.6,593.8"/>
<path d="M1378,463.2C1378,463.2 1466.4,494.6 1501.8,507.1L1503.7,507.8"/><polygon points="1516.2,512.2 1502.1,512.2 1505.2,503.3"/>
<path d="M1411.7,463.2C1421.1,464.9 1428.5,465.9 1440,468.3C1458.2,472 1486.6,479.5 1510,484.4C1533.3,489.3 1561.5,494.1 1580,497.5C1592.1,499.7 1598.4,501 1610,503C1622.4,505.2 1638.5,507.8 1654.1,510.3L1654.9,510.4"/><polygon points="1668,512.6 1654.1,515.1 1655.6,505.8"/>
<path d="M1652.8,463.2C1652.8,463.2 1609,490.8 1587.2,504.5L1586.3,505.1"/><polygon points="1575,512.2 1583.7,501.1 1588.8,509.1"/>
<path d="M1841,463.2C1841,463.2 1795.6,490.8 1772.9,504.5L1771.7,505.3"/><polygon points="1760.3,512.2 1769.2,501.3 1774.1,509.3"/>
<path d="M2019.8,457.5C1992.5,461 1964.2,465.7 1938,468C1913.8,470.2 1892.4,470.9 1868,471.5C1841.3,472.2 1812,471.8 1784,471.5C1756,471.2 1730.9,469.9 1700,469.4C1662.1,468.8 1615.5,467.3 1573.5,468.6C1531.8,469.9 1493.2,471.8 1449,477.4C1397.9,483.8 1333.2,494.5 1285,507.2C1245.7,517.6 1208,531.7 1180,544C1160.2,552.7 1146.9,561.4 1131,570C1119.9,576 1109.1,582 1098.4,588L1098.2,588.1"/><polygon points="1086.6,594.6 1095.9,584 1100.5,592.2"/>
<path d="M2019.8,458.2C1983.2,462.4 1945.6,467.2 1910,470.8C1876.4,474.2 1845.8,476.4 1812,479.2C1775.9,482.2 1738.5,485 1700,488.3C1659.1,491.8 1619.2,495.2 1573.5,499.8C1523.7,504.8 1465.5,511.8 1410.4,518L1408.7,518.2"/><polygon points="1395.5,519.7 1408.2,513.5 1409.2,522.9"/>
<path d="M2019.8,461C1983.2,466.6 1945.6,472.8 1910,477.8C1876.4,482.5 1845.8,486 1812,490.4C1775.9,495.1 1731.7,500.9 1700,505C1682.1,507.3 1667.7,509.2 1652.8,511.2L1652.2,511.3"/><polygon points="1639,513 1651.6,506.6 1652.8,515.9"/>
<path d="M2030,463.2C2004,470.4 1977.4,478.8 1952,484.8C1928.1,490.5 1905.4,494.3 1882,498.8C1863.1,502.4 1844.2,505.8 1825.2,509.2L1824.1,509.4"/><polygon points="1811,511.8 1823.2,504.8 1824.9,514"/>
<path d="M2095.7,463.2C2095.7,463.2 2102.6,485 2107.2,499.5L2107.2,499.5"/><polygon points="2111.2,512.2 2102.7,500.9 2111.7,498.1"/>
<path d="M2128.6,463.2C2128.6,463.2 2213.1,494.6 2246.9,507.1L2248.1,507.6"/><polygon points="2260.6,512.2 2246.5,512 2249.8,503.2"/>
<path d="M2389.1,460.4C2325.4,466.6 2256.5,473.4 2198,479C2148.3,483.7 2099.8,487.9 2060,491.8C2029.7,494.8 2005.8,497.6 1980,500.2C1955.9,502.7 1935.4,504.6 1910,507.2C1883.8,509.9 1853.2,513.2 1824,516.4L1823.8,516.4"/><polygon points="1810.6,517.8 1823.3,511.7 1824.3,521.1"/>
<path d="M2484.4,463.2C2477.5,479.6 2473.5,498.8 2463.7,512.3C2454.6,524.8 2441.8,533.9 2429,542.5C2415.9,551.2 2403.1,557.2 2386,564C2362.6,573.3 2322.3,582.4 2300,590C2291.1,593 2284.2,595.8 2277.4,598.4L2277,598.6"/><polygon points="2264.6,603.5 2275.3,594.3 2278.7,603"/>
<path d="M2487.9,463.2C2485.6,475.3 2484.9,487.7 2481,499.4C2477,511.3 2471.4,522.6 2463.7,533.9C2454.7,547.1 2441.2,561.4 2429,572.7C2417.6,583.2 2406.5,592.7 2393.1,600C2379,607.7 2362.2,611.9 2346.3,617.2C2330.2,622.6 2313.5,627.7 2297,632C2280.7,636.3 2265.9,639.8 2247.8,643.1C2225.7,647.1 2198.6,650.1 2173.9,653C2149.3,655.9 2118.5,658.6 2100,660.3C2089,661.3 2086.5,661.7 2073.5,662.7C2038,665.5 1938.5,672.6 1874.3,676.4C1814.3,680 1760.3,683.1 1700,685.2C1639.5,687.3 1574.6,687.7 1511.5,688.8L1511.3,688.8"/><polygon points="1498,689 1511.2,684.1 1511.4,693.5"/>
<path d="M347.2,526.7C444.8,528.9 550.6,531.3 640,533.4C715.5,535.2 768.5,536.4 849,538.4C959.1,541.1 1122.9,544.6 1240,548.3C1335.5,551.3 1410.2,554.6 1500,558C1596.4,561.7 1719.4,566.5 1800,569.6C1854.4,571.7 1891.2,572.1 1936.8,574.7C1982.4,577.3 2028,580.3 2073.5,585C2114.4,589.2 2155.2,595.6 2196,601.2L2196.4,601.2"/><polygon points="2209.6,603 2195.8,605.9 2197,596.6"/>
<path d="M266.4,537.8C269.6,549.5 270.9,561.1 275.9,573C281.7,586.9 289.7,603.3 300.6,615.5C311.9,628.2 326.4,638 343.1,647.4C363.1,658.6 390.1,667.4 413.9,675.7C437.3,683.9 460.5,691 484.6,696.9C509.2,702.9 530.2,706.3 560,711.1C602.8,718 663,726 716.9,732.3C774.1,739 834.9,745.3 893.9,750C952.8,754.7 1010.8,758.5 1070.8,760.6C1127.7,762.6 1186.6,762.2 1244.7,762.6L1247.2,762.7"/><polygon points="1260.5,762.8 1247.2,767.4 1247.2,758"/>
<path d="M272.7,537.8C284.4,553.1 293.7,569.7 307.7,583.7C322.7,598.8 342.1,615.2 360.8,624.4C377.7,632.7 394.8,634.5 413.9,638.5C435.7,643 460.6,646.3 484.6,649.2C509.3,652.2 525.7,653.6 560,656.2C633.2,661.7 792.4,670.8 905,676C1007.5,680.7 1106,683.1 1206.2,686.5L1208.7,686.5"/><polygon points="1222,687 1208.5,691.2 1208.9,681.8"/>
<path d="M1313.3,537.8C1300.4,545.9 1284.3,552.4 1274.7,562C1266.6,570.1 1260.3,580.5 1257.3,589.4C1254.9,596.6 1254.6,603.3 1255.5,610.5C1256.5,618.6 1260.5,627.3 1264.3,635.4C1268.3,643.9 1273.8,653.1 1279.2,660.3C1281,662.7 1282.9,664.8 1284.8,666.8L1284.8,666.9"/><polygon points="1294.1,676.4 1281.4,670.2 1288.2,663.6"/>
<path d="M1313.3,537.8C1296.2,548.5 1273.9,558.2 1262,570C1253.2,578.7 1250.6,589.1 1244.3,598C1238.1,606.7 1229.7,613.2 1224.4,622.9C1218.6,633.7 1214.9,648.2 1212,660.3C1209.3,671.3 1205.5,682.8 1207,692.6C1208.4,701.7 1212.8,710.2 1219.4,717.5C1227.4,726.5 1244.7,733.8 1254.3,740C1256.5,741.4 1258.4,742.6 1260.3,743.8L1260.5,744"/><polygon points="1271.7,751.1 1258,747.9 1263,740"/>
<path d="M1342,537.8C1342,537.8 1347.1,563.8 1350.4,580.3L1350.4,580.5"/><polygon points="1353,593.5 1345.8,581.4 1355,579.5"/>
<path d="M1370.6,537.8C1370.6,537.8 1459,573.4 1494.4,587.7L1496.5,588.5"/><polygon points="1508.8,593.5 1494.7,592.9 1498.2,584.2"/>
<path d="M1395.2,532.1C1429.7,537.9 1464.8,541.7 1498.8,549.6C1532.6,557.5 1565.3,570.6 1598.4,579.4C1625.9,586.7 1653.3,592.4 1680.7,598.6L1682.2,598.9"/><polygon points="1695.2,601.9 1681.2,603.5 1683.3,594.4"/>
<path d="M1395.2,534.6C1454.6,537.9 1508.1,540.6 1573.5,544.6C1653.4,549.5 1754.2,555 1840,562C1920.5,568.6 2006.2,577.2 2073.5,585C2119.9,590.3 2156.3,595.8 2196.2,601.2L2196.4,601.2"/><polygon points="2209.6,603 2195.8,605.9 2197,596.6"/>
<path d="M1474,537.8C1432.5,544.2 1392.8,549.7 1349.4,557C1301.8,565 1245.3,576.4 1200,584.4C1167.4,590.2 1139.5,594.9 1110.2,599.9L1109.6,600"/><polygon points="1096.5,602.2 1108.8,595.3 1110.4,604.6"/>
<path d="M1552.3,537.8C1552.3,537.8 1548.8,563.8 1546.7,580.3L1546.7,580.3"/><polygon points="1544.9,593.5 1542,579.7 1551.3,580.9"/>
<path d="M1638.3,535.9C1705.5,542.9 1770.3,549.2 1840,557C1915,565.4 2006.1,576.5 2073.5,585C2119.8,590.8 2156.3,595.9 2196.2,601.2L2196.4,601.2"/><polygon points="2209.6,603 2195.8,605.9 2197,596.6"/>
<path d="M1676.8,537.8C1642.4,545 1611.6,551.4 1573.5,559.5C1530,568.8 1476.9,580.4 1427.4,591.1L1427,591.2"/><polygon points="1414,594 1426,586.6 1428,595.8"/>
<path d="M1725.4,537.8C1712.1,550.9 1696.3,565.4 1685.6,577C1677.8,585.5 1672.8,593.4 1666.3,600C1660.6,605.8 1655.2,610.4 1649,615C1642.7,619.7 1636.3,624.4 1629,627.8C1621.4,631.3 1612.5,633.1 1604.2,635.5C1596,637.9 1589.1,639.9 1579.4,642.2C1565.7,645.4 1546.3,649 1529.7,652.2C1513.1,655.4 1494.5,659 1480,661.4C1468.8,663.3 1460.6,664.1 1450,665.8C1438.1,667.8 1422.6,670.9 1412,672.8C1409.7,673.2 1407.6,673.6 1405.7,674L1405.6,674"/><polygon points="1392.5,676.4 1404.7,669.4 1406.4,678.6"/>
<path d="M1752.8,537.8C1752.8,537.8 1786.2,564 1804.1,578L1804.5,578.4"/><polygon points="1815,586.6 1801.6,582.1 1807.4,574.7"/>
<path d="M1780.2,537.8C1780.2,537.8 1905.1,576.7 1946.7,589.7L1947.3,589.8"/><polygon points="1960,593.8 1945.9,594.3 1948.7,585.4"/>
<path d="M1810.9,532.4C1820.6,533.7 1828.5,534.6 1840,536.2C1856.9,538.6 1880,542.4 1902.6,545.6C1929.3,549.3 1966.1,552.7 1990,556.9C2006.9,559.9 2018.7,563.4 2033,566.6C2047.4,569.8 2065.1,572.7 2076.1,576.3C2083.3,578.6 2089,580.1 2093.4,583.8C2097.4,587.2 2100.2,592.5 2102,596.8C2103.5,600.4 2104.3,603.8 2104.1,607.5C2103.8,611.6 2101.8,616.2 2099.8,620.4C2097.6,625 2095.3,629.5 2091,634C2085,640.3 2074.7,646.9 2065.4,652.7C2055.4,659 2044.7,664.5 2033,670C2019.8,676.1 2008,681.5 1990,687.2C1961.6,696.3 1914,706.7 1877.5,714.3C1843.5,721.4 1811.3,726.7 1778.1,731.7C1745.1,736.7 1711.9,740.6 1678.8,744.1C1645.7,747.6 1612.5,750.3 1579.4,752.8C1546.3,755.3 1514.8,757.4 1480,759C1445.9,760.6 1408.6,761.3 1372.3,762.4L1371.3,762.4"/><polygon points="1358,762.8 1371.2,757.7 1371.4,767.1"/>
<path d="M1904.5,537.8C1863,552.5 1807.7,571.8 1780,582C1772.1,584.9 1766.4,587.1 1761,589.2L1760.9,589.2"/><polygon points="1748.5,594 1759.2,584.8 1762.6,593.6"/>
<path d="M2118.8,537.9C2119.1,542.4 2119.7,546.4 2119.8,551.5C2119.9,557.8 2120,565.9 2119.2,573C2118.4,580.2 2117,587.5 2114.9,594.6C2112.7,601.9 2109.8,609.9 2106.3,616.1C2103.2,621.5 2100.4,626.2 2095.5,630C2089.5,634.5 2080.8,637 2071.8,639.8C2060.6,643.3 2046.3,646 2033,648.4C2019.1,650.9 2003.9,652.8 1990,654.5C1977,656.1 1968.3,657.1 1952,658.4C1922.5,660.8 1871.1,663.8 1827.8,665.8C1780.4,668 1729.3,669.6 1678.8,670.8C1626.7,672 1563.5,672 1520,672.8C1489.6,673.4 1461.7,674.1 1442.6,674.7C1431.4,675 1424.8,675.4 1415.8,675.7C1411.1,675.9 1406.3,676 1401.5,676.1L1401.3,676.1"/><polygon points="1388,676.5 1401.2,671.4 1401.4,680.8"/>
<path d="M2291.7,537.8C2291.7,537.8 2268.5,567.1 2255.4,583.7L2254.9,584.4"/><polygon points="2246.6,594.8 2251.2,581.5 2258.5,587.3"/>
<path d="M2302.9,537.8C2302.9,546.7 2303.8,555 2302.9,564.5C2301.8,575.5 2298.7,591.4 2295.8,600C2294,605.3 2292.4,608.2 2289.7,612.3C2286.5,617.2 2282.4,623.1 2277.3,627.1C2271.8,631.4 2265.2,634 2257.6,637C2247.9,640.8 2235.8,643.9 2223.2,646.8C2208.3,650.2 2192,652.7 2173.9,655.4C2151.8,658.7 2118.5,662.7 2100,664.5C2089,665.6 2086.5,665.6 2073.5,666.5C2038,668.8 1938.5,674.8 1874.3,677.7C1814.3,680.5 1760.2,682.2 1700,683.9C1639.5,685.6 1574.6,686.5 1511.5,687.7L1511.3,687.7"/><polygon points="1498,688 1511.2,683 1511.4,692.4"/>
<path d="M1349,619.7C1349,619.7 1333.1,647.5 1323.6,664.2L1323.2,664.9"/><polygon points="1316.6,676.4 1319.1,662.5 1327.3,667.2"/>
<path d="M1372.6,619.7C1372.6,619.7 1410.4,651.6 1429.3,667.5L1429.6,667.8"/><polygon points="1439.8,676.4 1426.6,671.4 1432.7,664.2"/>
<path d="M1541.2,619.7C1539.4,629.1 1538.3,637.9 1535.7,647.8C1532.6,659.5 1530.6,674.9 1523.2,685.2C1515.7,695.7 1504.1,702.8 1490.9,710C1474.1,719.2 1450.2,725.4 1428.6,732.5C1410,738.6 1390.2,744.1 1370.7,749.8L1370.4,749.9"/><polygon points="1357.6,753.6 1369,745.4 1371.7,754.4"/>
<path d="M1308.6,702.3C1308.6,702.3 1308.6,723 1308.6,737.4L1308.6,737.9"/><polygon points="1308.6,751.2 1303.9,737.9 1313.3,737.9"/>
</g>
</svg></body></html>
